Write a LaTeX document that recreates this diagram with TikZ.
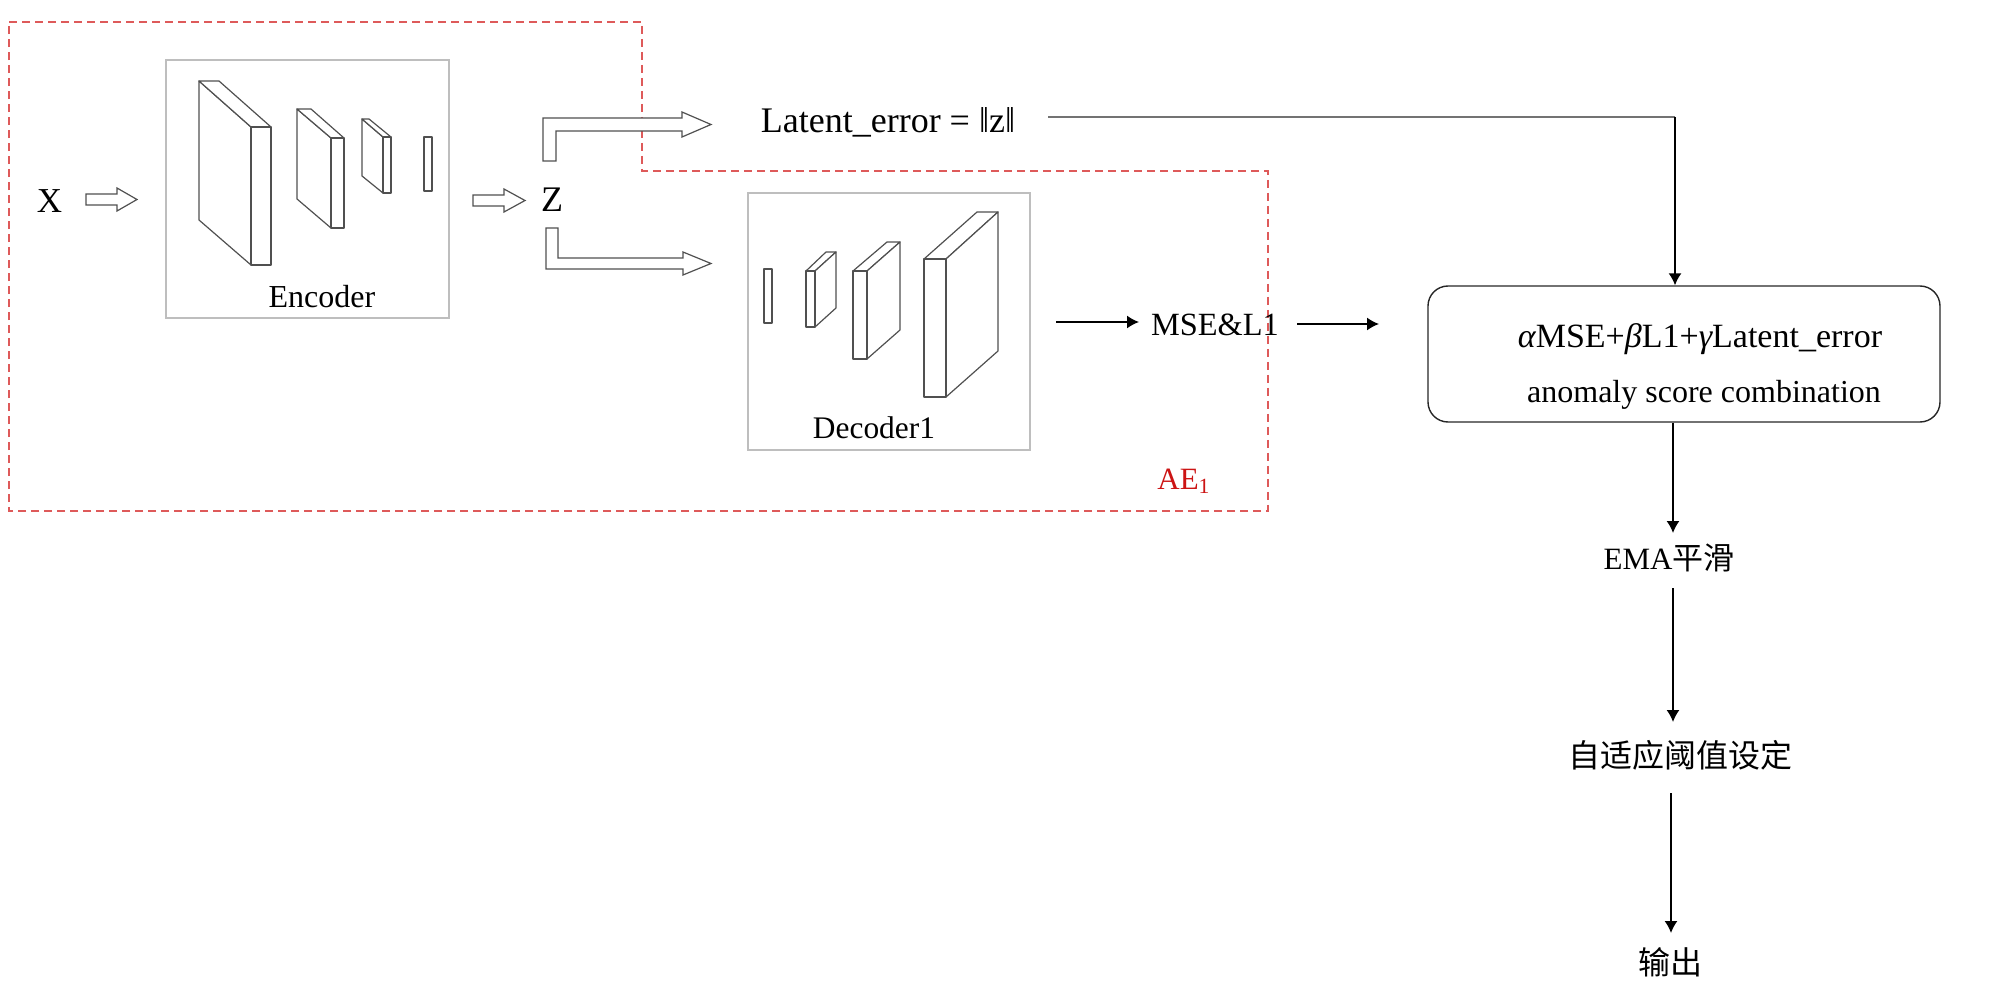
\documentclass[tikz,border=0pt]{standalone}
\usepackage{fontspec}
\setmainfont{Liberation Serif}
\newfontfamily\cjk{Noto Sans CJK SC}
\usetikzlibrary{arrows.meta}
\definecolor{aered}{RGB}{204,20,20}
\definecolor{dashred}{RGB}{222,90,90}
\definecolor{slabline}{RGB}{80,80,80}
\definecolor{boxgray}{RGB}{190,190,190}
\begin{document}
\begin{tikzpicture}[x=0.5pt,y=-0.5pt,
  txt/.style={inner sep=0pt, font=\fontsize{#1}{#1}\selectfont},
  slab/.style={draw=slabline, line width=0.6pt, fill=white, line join=round},
  hollow/.style={draw=slabline, line width=0.6pt, fill=white, line join=miter},
  gbox/.style={draw=boxgray, line width=0.8pt, inner sep=0pt},
  arr/.style={-{Latex[length=6pt,width=6.5pt]}, line width=0.75pt},
  glink/.style={draw=black!55, line width=1pt}]
\useasboundingbox (0,0) rectangle (1999,995);

% AE1 dashed region
\draw[dashred, dash pattern=on 4pt off 2.5pt, line width=0.6pt]
  (9,22) -- (642,22) -- (642,171) -- (1268,171) -- (1268,511) -- (9,511) -- cycle;
\node[txt=15.5, text=aered, anchor=base west] (ae) at (1157,489) {AE\textsubscript{1}};

% Encoder box and layers
\node[gbox, minimum width=141.5pt, minimum height=129pt] (enc) at (307.5,189) {};
\node[txt=16, anchor=base] (enctxt) at (322,307) {Encoder};
\draw[slab] (199,81) -- (251,127) -- (251,265) -- (199,220) -- cycle;
\draw[slab] (199,81) -- (219,81) -- (271,127) -- (251,127) -- cycle;
\draw[slab] (251,127) rectangle (271,265);
\draw[slab] (297,109) -- (331,138) -- (331,228) -- (297,199) -- cycle;
\draw[slab] (297,109) -- (311,109) -- (344,138) -- (331,138) -- cycle;
\draw[slab] (331,138) rectangle (344,228);
\draw[slab] (362,119) -- (383,137) -- (383,193) -- (362,176) -- cycle;
\draw[slab] (362,119) -- (369,119) -- (391,137) -- (383,137) -- cycle;
\draw[slab] (383,137) rectangle (391,193);
\draw[slab] (424,137) rectangle (432,191);

% Decoder box and layers
\node[gbox, minimum width=141pt, minimum height=128.5pt] (dec) at (889,321.5) {};
\node[txt=15.7, anchor=base] (dectxt) at (874,438) {Decoder1};
\draw[slab] (764,269) rectangle (772,323);
\draw[slab] (806,271) -- (826,252) -- (836,252) -- (815,271) -- cycle;
\draw[slab] (815,271) -- (836,252) -- (836,308) -- (815,327) -- cycle;
\draw[slab] (806,271) rectangle (815,327);
\draw[slab] (853,271) -- (887,242) -- (900,242) -- (867,271) -- cycle;
\draw[slab] (867,271) -- (900,242) -- (900,330) -- (867,359) -- cycle;
\draw[slab] (853,271) rectangle (867,359);
\draw[slab] (924,259) -- (977,212) -- (998,212) -- (946,259) -- cycle;
\draw[slab] (946,259) -- (998,212) -- (998,351) -- (946,397) -- cycle;
\draw[slab] (924,259) rectangle (946,397);

% X, Z and hollow arrows
\node[txt=17.5, anchor=base] (x) at (49.5,213) {X};
\node[txt=18, anchor=base] (z) at (552,212) {Z};
\draw[hollow] (86,194) -- (117,194) -- (117,188) -- (137,199.5) -- (117,211) -- (117,205) -- (86,205) -- cycle;
\draw[hollow] (473,195) -- (504,195) -- (504,189) -- (525,200.5) -- (504,212) -- (504,206) -- (473,206) -- cycle;
\draw[hollow] (543,161) -- (543,118) -- (682,118) -- (682,112) -- (711,124.5) -- (682,137) -- (682,131) -- (556,131) -- (556,161) -- cycle;
\draw[hollow] (546,228) -- (546,269) -- (683,269) -- (683,275) -- (711,263.5) -- (683,252) -- (683,258) -- (558,258) -- (558,228) -- cycle;

% Latent error
\node[txt=18, anchor=base] (lat) at (888,133) {Latent\_error = ‖z‖};

% MSE&L1
\node[txt=16.2, anchor=base] (mse) at (1215,335) {MSE\&L1};

% Combination box
\node[draw=black!85, line width=0.7pt, rounded corners=10pt, minimum width=256pt, minimum height=68pt, inner sep=0pt] (comb) at (1684,354) {};
\node[txt=17, anchor=base] (form) at (1700,347) {{\itshape α}MSE+{\itshape β}L1+{\itshape γ}Latent\_error};
\node[txt=16, anchor=base] (anom) at (1704,402) {anomaly score combination};

% Right column
\node[txt=15.5, anchor=center] (ema) at (1669,558) {EMA{\cjk 平滑}};
\node[txt=16, anchor=center, font=\fontsize{16}{16}\selectfont\cjk] (thr) at (1680,755) {自适应阈值设定};
\node[txt=16, anchor=center, font=\fontsize{16}{16}\selectfont\cjk] (out) at (1670,962) {输出};

% Connectors
\coordinate (latS) at (1048,117);
\coordinate (latK) at (1675,117);
\draw[glink] (latS) -- (latK);
\draw[arr] (latK) -- (latK |- comb.north);

\coordinate (d1) at (1056,322);
\coordinate (d2) at (1139,322);
\draw[arr] (d1) -- (d2);
\coordinate (m1) at (1297,324);
\coordinate (m2) at (1379,324);
\draw[arr] (m1) -- (m2);

\coordinate (e2) at (1673,533);
\draw[arr] (e2 |- comb.south) -- (e2);
\coordinate (t1) at (1673,588);
\coordinate (t2) at (1673,722);
\draw[arr] (t1) -- (t2);
\coordinate (o1) at (1671,793);
\coordinate (o2) at (1671,933);
\draw[arr] (o1) -- (o2);
\end{tikzpicture}
\end{document}
